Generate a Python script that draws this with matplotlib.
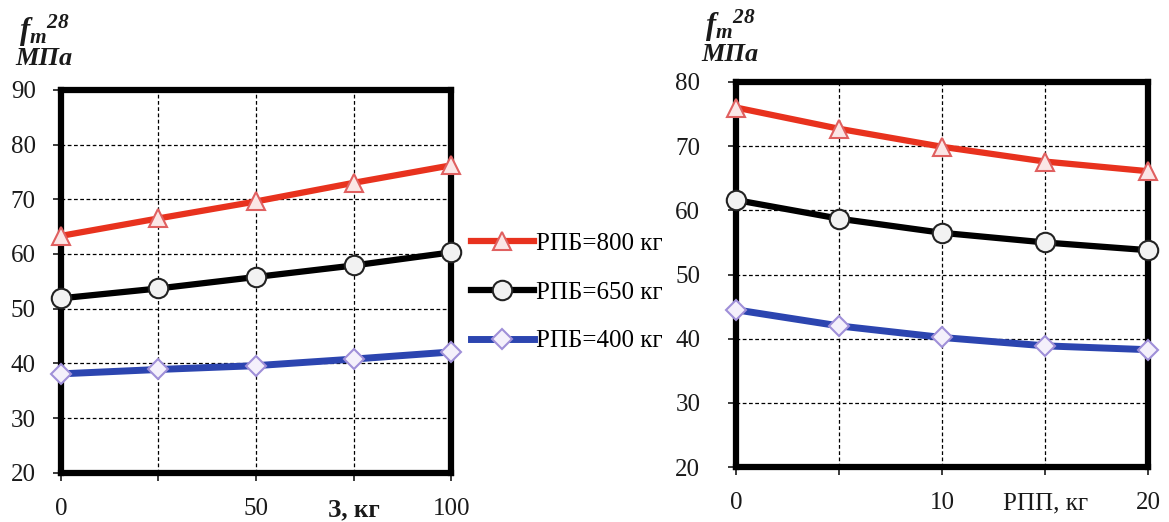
import matplotlib
matplotlib.use("Agg")
import matplotlib.pyplot as plt
from matplotlib.lines import Line2D

# Data
x_left = [0, 25, 50, 75, 100]
left_800 = [63.3, 66.5, 69.6, 73.0, 76.2]
left_650 = [51.9, 53.7, 55.8, 57.9, 60.3]
left_400 = [38.1, 38.9, 39.6, 40.8, 42.1]

x_right = [0, 5, 10, 15, 20]
right_800 = [76.0, 72.7, 69.9, 67.6, 66.1]
right_650 = [61.6, 58.7, 56.5, 55.0, 53.8]
right_400 = [44.5, 42.0, 40.2, 38.9, 38.3]

labels = ["РПБ=800 кг", "РПБ=650 кг", "РПБ=400 кг"]
left_xticks = [0, 25, 50, 75, 100]
left_xticklabels = ["0", "", "50", "З, кг", "100"]
right_xticks = [0, 5, 10, 15, 20]
right_xticklabels = ["0", "", "10", "РПП, кг", "20"]

plt.rcParams['font.family'] = ['Liberation Serif', 'DejaVu Serif']
plt.rcParams['mathtext.fontset'] = 'custom'
plt.rcParams['mathtext.it'] = 'Liberation Serif:italic:bold'
plt.rcParams['mathtext.rm'] = 'Liberation Serif:italic:bold'
plt.rcParams['mathtext.bf'] = 'Liberation Serif:italic:bold'

fig = plt.figure(figsize=(11.69, 5.22), dpi=100)
axL = fig.add_axes([0.052, 0.094, 0.334, 0.734])
axR = fig.add_axes([0.630, 0.105, 0.352, 0.738])

styles = [
    dict(color="#e8321e", marker="^", mfc="#fbe6e6", mec="#e06060", ms=13, lw=4.5),
    dict(color="#000000", marker="o", mfc="#f2f2f2", mec="#222222", ms=14, lw=4.5),
    dict(color="#2c45b0", marker="D", mfc="#f4f0fb", mec="#9f8fd8", ms=10.5, lw=5),
]

for ax, xs, series, ylim, yt, xt, xtl, is_left in [
    (axL, x_left, [left_800, left_650, left_400], (20, 90), range(20, 91, 10), left_xticks, left_xticklabels, True),
    (axR, x_right, [right_800, right_650, right_400], (20, 80), range(20, 81, 10), right_xticks, right_xticklabels, False),
]:
    for ys, st in zip(series, styles):
        ax.plot(xs, ys, clip_on=False, zorder=5, mew=1.5, **st)
    ax.set_xlim(xs[0], xs[-1])
    ax.set_ylim(*ylim)
    ax.set_yticks(list(yt))
    ax.set_xticks(xt)
    ax.set_xticklabels(xtl)
    if is_left:
        ax.get_xticklabels()[3].set_fontweight("bold")
    ax.grid(True, color="black", linestyle=(0, (3, 2)), linewidth=0.9)
    for sp in ax.spines.values():
        sp.set_linewidth(4.5)
        sp.set_zorder(4)
    ax.tick_params(direction="out", length=6, width=1.2, labelsize=18, pad=12,
                   colors="#1a1a1a")
    if not is_left:
        ax.tick_params(axis="y", pad=20)

for xf, y1, y2 in [(0.013, 0.94, 0.888), (0.600, 0.95, 0.895)]:
    fig.text(xf + 0.003, y1, r"$f_m{}^{28}$", fontsize=22, ha="left", va="center", color="#1a1a1a")
    fig.text(xf, y2, "МПа", fontsize=19, fontstyle="italic", fontweight="bold",
             ha="left", va="center", color="#1a1a1a")

handles = [Line2D([], [], mew=1.5, **st) for st in styles]
fig.legend(handles, labels, loc="center left", bbox_to_anchor=(0.403, 0.44),
           frameon=False, fontsize=18, handlelength=2.5, labelspacing=1.05,
           handletextpad=0.1, borderpad=0, borderaxespad=0)

fig.savefig("out.png", dpi=100)
